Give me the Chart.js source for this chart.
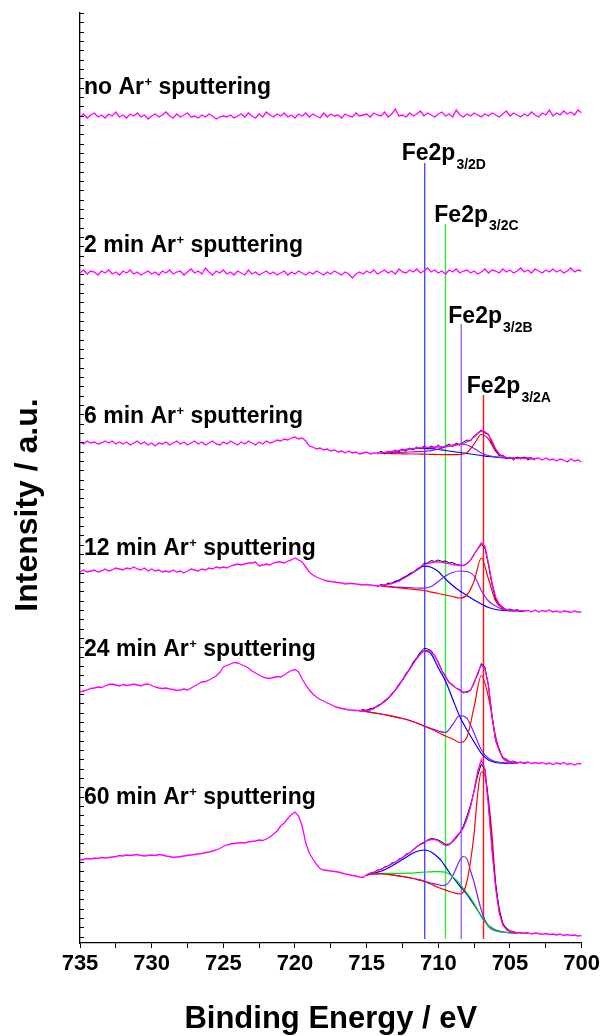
<!DOCTYPE html>
<html>
<head>
<meta charset="utf-8">
<script src="https://cdn.jsdelivr.net/npm/chart.js@4.4.0/dist/chart.umd.min.js"></script>
<style>
  html, body { margin: 0; padding: 0; background: #fff; }
  canvas { display: block; }
</style>
</head>
<body>
<canvas id="xpsChart" width="603" height="1036"></canvas>
<script>
// energy grid of the measured spectra: 735 eV down to 700 eV
let gridStart = 735;
let gridStep = 0.25;
let fitStep = 0.5;

let xTickLabels = [735, 730, 725, 720, 715, 710, 705, 700];
let sampleNames = ['no', '2 min', '6 min', '12 min', '24 min', '60 min'];

let peakNames = ['A', 'B', 'C', 'D'];
let peakPositions = [706.85, 708.4, 709.5, 710.95];
let peakLineTops = [548, 619, 719, 780];

// spectra (intensity, arbitrary units, stacked)
let specNoAr = [
  826, 829, 825, 828, 830, 826, 828, 825, 829, 827, 831, 826, 828, 825, 829, 827, 830, 826, 828, 824,
  827, 829, 826, 828, 831, 827, 825, 829, 826, 828, 830, 826, 827, 825, 828, 826, 829, 827, 824, 826,
  827, 826, 828, 825, 827, 829, 826, 830, 827, 825, 829, 826, 831, 828, 826, 829, 827, 830, 826, 828,
  825, 829, 827, 830, 826, 829, 827, 825, 830, 826, 829, 827, 828, 825, 829, 827, 826, 830, 827, 828,
  829, 826, 830, 828, 827, 831, 826, 829, 834, 827, 828, 826, 830, 827, 829, 832, 827, 830, 828, 826,
  829, 831, 827, 829, 826, 833, 828, 826, 829, 827, 830, 828, 826, 829, 827, 830, 828, 826, 829, 832,
  827, 830, 828, 826, 829, 827, 831, 828, 826, 830, 828, 833, 827, 830, 828, 832, 829, 831, 828, 833,
  830
];
let spec2min = [
  670, 673, 669, 672, 671, 668, 672, 670, 673, 669, 671, 668, 672, 670, 673, 669, 671, 668, 670, 672,
  669, 671, 668, 672, 670, 673, 669, 671, 672, 668, 671, 674, 670, 672, 669, 675, 671, 668, 672, 670,
  673, 669, 671, 668, 672, 670, 668, 673, 669, 671, 668, 670, 672, 669, 671, 668, 670, 672, 668, 671,
  669, 672, 670, 668, 671, 669, 672, 670, 668, 671, 669, 672, 670, 668, 671, 669, 665, 669, 671, 669,
  672, 670, 673, 669, 671, 673, 670, 672, 669, 674, 671, 670, 673, 671, 674, 670, 672, 675, 671, 673,
  670, 672, 669, 673, 671, 674, 670, 672, 673, 670, 672, 669, 671, 674, 670, 673, 672, 670, 674, 671,
  673, 670, 672, 675, 671, 673, 670, 674, 672, 670, 673, 671, 674, 671, 673, 670, 672, 675, 671, 673,
  672
];
let spec6min = [
  501, 499, 502, 500, 501, 499, 500, 502, 500, 502, 499, 501, 499, 501, 498, 500, 502, 499, 501, 498,
  500, 497, 500, 499, 501, 498, 500, 502, 499, 501, 498, 500, 502, 499, 501, 498, 500, 502, 499, 498,
  501, 499, 502, 500, 498, 501, 499, 502, 500, 498, 501, 499, 502, 500, 501, 503, 502, 504, 503, 505,
  506, 504, 505, 502, 497, 496, 494, 495, 493, 494, 492, 493, 491, 492, 490, 492, 490, 491, 489, 490,
  491, 489, 490, 490, 490, 490.5, 491, 491.5, 492, 492.5, 493, 493.5, 494, 494.5, 495, 495, 495.5, 495.5, 495.5, 496,
  496, 496, 496.5, 497, 497.5, 498, 498.5, 499.5, 501, 503, 506, 509.5, 512, 511.5, 508, 502, 494, 489, 486.5, 485.5,
  485, 485, 484.5, 485, 484.5, 485, 484, 484.5, 485, 483, 485, 483, 484, 482, 484, 483, 481, 484, 482, 483,
  481
];
let spec12min = [
  371, 373, 371, 372, 373, 371, 372, 374, 372, 373, 375, 374, 373, 375, 374, 376, 374, 373, 375, 372,
  374, 372, 373, 371, 372, 371, 373, 371, 372, 370, 372, 374, 373, 372, 374, 373, 375, 374, 376, 375,
  376, 375, 377, 378, 379, 378, 379, 380, 380, 381, 377, 378, 379, 378, 380, 381, 381, 380, 382, 383,
  385, 383, 381, 376, 371, 368, 366, 364.5, 363, 362, 361.5, 361, 360.5, 360, 359, 359.5, 359.5, 359, 358.5, 358,
  358.5, 358, 357.5, 357, 357.5, 358, 358.5, 359.5, 360.5, 362, 364, 366, 368, 370.5, 373.5, 376, 378, 379.5, 380.5, 381,
  381, 380.8, 380, 379.3, 378.5, 378, 377.5, 377.5, 379.5, 383, 388.5, 394.5, 400, 397, 380, 360, 346, 339, 335.5, 333.5,
  333, 332.7, 332.5, 332.3, 332, 332.5, 331, 333, 331, 332.5, 331.5, 333, 331, 332, 330.5, 332, 331.5, 330.5, 332, 331,
  331
];
let spec24min = [
  251, 252, 253, 254.5, 255, 256, 255.5, 257, 258.5, 259, 258, 257, 258.5, 257.5, 258, 259, 258, 257, 258.5, 259,
  257.5, 256, 255, 254.5, 255, 254, 253.5, 252.5, 253, 254, 253, 255, 257, 259, 261, 261.5, 263, 265, 267, 270.5,
  276, 277.5, 279, 280.5, 280, 278.5, 277, 275, 272, 270, 268, 266, 265, 264.5, 265.5, 266.5, 266, 268, 270.5, 272.5,
  273.5, 271, 264, 258, 253, 249, 246, 243.5, 242, 240, 238.5, 236.5, 235.5, 234.5, 234, 233, 233, 232.5, 232.5, 232,
  232.5, 233, 235, 236.5, 239, 241.5, 244.7, 248.5, 253, 258, 263, 268.5, 274, 279.5, 285, 289, 292, 292.5, 291, 287.5,
  280, 272, 266, 261, 257.5, 255, 252.5, 251, 250.5, 253, 260, 270, 278, 274, 258, 226, 203, 192, 186, 182.5,
  181.5, 181, 180.5, 180.5, 180, 181, 179.5, 180.5, 179.5, 180.5, 179, 180, 178.5, 180, 179, 180.5, 178.5, 179.5, 178, 179.5,
  179
];
let spec60min = [
  83, 83.5, 84.5, 84, 85, 84.5, 85.5, 85, 85.5, 86, 86.5, 87.5, 87, 88, 87.5, 88, 88.5, 87.5, 87, 87.5,
  88, 87.5, 88.5, 88, 87, 86.5, 85.5, 86, 86.5, 87, 87.5, 88, 88.5, 89, 89.5, 90.5, 91, 92, 93, 94.5,
  96.5, 98, 99, 99.5, 100, 100.5, 100, 101, 101.5, 102, 103, 102.5, 104, 106, 109, 112, 117, 120, 124.5, 128.5,
  131, 127, 117, 100, 90, 84, 78.5, 74.5, 73, 72.5, 72, 71.5, 71, 70, 69, 68.5, 67.5, 67, 66, 65.5,
  68.5, 69.5, 71, 72.5, 74, 75.5, 77, 79, 81, 83, 85.5, 88, 90, 93, 96.5, 99, 101, 102.5, 103.5, 103.5,
  102, 99.5, 97.5, 98, 102, 106.5, 110.5, 115, 124, 136, 153, 172, 183, 174, 136, 92, 55, 30, 18, 13.5,
  11.5, 10.8, 10.3, 10, 9.8, 10.5, 9, 10, 9.5, 8.5, 9.5, 8.5, 9, 8, 9, 7.5, 8.5, 7.5, 8, 7,
  7.5
];

// raw data inside the fit windows (step 0.25 eV)
let raw6Start = 714.25;
let raw6min = [489, 492, 489, 492, 490, 493, 491, 494, 492, 495, 493, 496, 494, 497, 494, 497, 495, 498, 495, 497,
  499, 496, 500, 498, 501, 503, 502, 507, 510, 513, 510, 509, 500, 493, 487, 488, 484, 486, 483, 486, 484, 486, 483, 485, 483];
let raw12Start = 714.25;
let raw12min = [356, 358.5, 357.5, 360, 359.5, 362, 361.5, 365, 366, 369.5, 370.5, 374, 376, 379.5, 380, 382.5, 381.5, 383,
  381.5, 382, 380, 380.5, 378.5, 378, 377.5, 379, 383, 389, 394, 398.5, 395, 378, 358, 344, 338, 336, 333, 334, 332, 333.5, 331.5];
let raw24Start = 715.5;
let raw24min = [232, 233.5, 232, 234.5, 234, 237.5, 238.5, 242.5, 244, 249.5, 252.5, 259, 262.5, 269.5, 273.5, 281, 285.5, 291,
  294.5, 294, 292.5, 287, 281, 272.5, 267, 260, 258.5, 254.5, 253.5, 250, 251.5, 252.5, 261, 268.5, 279.5, 276, 257, 227, 202,
  193.5, 185, 184, 181, 182, 180, 181, 179.5, 180.5];
let raw60Start = 715;
let raw60min = [68, 70, 70.5, 73, 73.5, 76, 77, 80, 80.5, 84, 85, 89, 90, 93.5, 96, 98.5, 100, 103, 104.5, 104, 103, 101, 98.5,
  99, 101, 105, 110, 117, 127, 138, 152, 168, 179, 174, 140, 95, 58, 33, 19, 15, 12, 11.5, 10, 10.5, 9.5, 10];

// fitted components on background
let fit6Start = 714;
let fit6A = [489.5, 489.5, 489.3, 489.2, 489, 489, 488.8, 488.7, 488.5, 488.4, 488.3, 488.5, 490.5, 499, 508.5, 504, 491.7, 486.5, 485.2, 485, 484.8, 484.8];
let fit6B = [490, 490, 490.3, 490.6, 491, 491.3, 491.6, 492.3, 494, 496, 497.8, 499, 498, 494.5, 490, 487.5, 486, 485.3, 485, 485, 484.8, 484.8];
let fit6D = [490, 491, 492, 493, 494, 494.5, 494.7, 494.3, 493.5, 492.5, 491.5, 490.5, 489.5, 488.5, 487.5, 486.5, 485.8, 485.3, 485, 485, 484.8, 484.8];

let fit12Start = 714;
let fit12A = [357, 356.3, 355.5, 354.8, 354, 353.3, 352.5, 350.8, 349.5, 348, 346.5, 345, 348, 362, 385, 364, 342, 334.5, 333, 332.5, 332];
let fit12B = [357, 356.5, 356, 355.7, 355.4, 355, 354.8, 356.5, 361.5, 367, 370.5, 372, 371.5, 367, 352.5, 342, 337, 333.7, 332.8, 332.3, 332];
let fit12D = [357.2, 358.8, 361.3, 364.8, 368.8, 372.8, 376.8, 375.8, 371.5, 364, 357.5, 352, 347.5, 343, 339, 335.5, 333.5, 332.5, 332.2, 332, 332];

let fit24Start = 715.5;
let fit24A = [232.3, 231.3, 230.2, 229, 227.7, 226.2, 224.5, 222.5, 220, 217, 214, 210.5, 207, 204, 200.5, 206, 236.3, 267.5, 246, 206.3, 185, 181, 180];
let fit24B = [232.3, 231.3, 230.2, 229, 227.7, 226.2, 224.5, 222.5, 220, 217, 214.5, 212, 210.5, 218.5, 227.5, 224.7, 209.7, 193, 184.7, 181.5, 180.3, 179.8, 179.5];
let fit24D = [232.3, 233, 235, 239, 244.7, 253, 263, 274, 284.5, 292, 289, 275, 262, 244, 226.3, 213, 201, 189.7, 183, 180.5, 179.8, 179.7, 179.5];

// 60 min fit is read on a finer 0.25 eV grid (narrow peaks)
let fit60Start = 715;
let fit60Step = 0.25;
let fit60A = [68.2, 68.6, 69, 69.2, 69.3, 69, 68.6, 68.1, 67.6, 67.1, 66.5, 65.9, 65.3, 64.5, 63.7, 62.8, 61.8, 60.3, 58.7, 57.1,
  55.5, 54.2, 53, 51.8, 50.5, 49.7, 49, 51, 62, 82, 109.7, 150, 171, 167, 143, 108, 59.7, 34, 20, 14, 11.3, 10.5, 10];
let fit60B = [68.2, 68.6, 69, 69.2, 69.3, 69, 68.6, 68.1, 67.6, 67.1, 66.5, 65.9, 65.3, 64.5, 63.7, 62.8, 61.8, 60.9, 60, 59.1,
  58.3, 57.5, 58, 61, 67, 75, 83, 86.5, 84, 72, 60.5, 46, 33, 23, 16.3, 13.5, 12, 11.3, 10.8, 10.5, 10.3, 10.1, 10];
let fit60C = [68.2, 68.6, 69, 69.4, 69.7, 69.7, 69.7, 69.7, 69.7, 69.7, 69.7, 69.8, 69.8, 70, 70.3, 70.6, 70.8, 71, 71.2, 71.3,
  71.3, 71.2, 70.8, 69, 66.3, 63, 59, 54.5, 50, 45, 39.5, 33, 26.3, 21, 17, 14.5, 12.5, 11.5, 10.8, 10.5, 10.3, 10.1, 10];
let fit60D = [68.2, 69, 69.8, 70.8, 71.8, 73.3, 75, 77, 79, 81.2, 83.5, 85.8, 88, 90, 91.5, 92.5, 93, 92.5, 91, 88.5,
  85.5, 81.5, 76.3, 71, 66, 61.5, 57, 52.8, 48.5, 43.3, 38, 32.5, 27, 22, 17.5, 15, 13, 11.8, 11, 10.6, 10.3, 10.1, 10];

// ---- layout and style ----
let colSpectrum = '#ff00ff';
let colRaw = '#000000';
let compColors = { A: '#ff0000', B: '#8020ff', C: '#00e000', D: '#0000ff' };
let peakLineColors = { A: '#ff1010', B: '#9a66ff', C: '#2cf02c', D: '#4a4aff' };

let labelLeft = 84;
let labelBaselines = [94, 252, 423, 555, 656, 804];
let peakLabelLeft = [466.7, 448.3, 434.3, 401.7];
let peakLabelBaselines = [393, 323, 221.5, 160];
let yTickStep = 9.33;
let fontFamily = '"Liberation Sans", Arial, sans-serif';

function toPoints(start, step, values) {
  return values.map(function (v, i) { return { x: start - i * step, y: v }; });
}

function lineSet(label, points, color, width, order, smooth) {
  return {
    label: label,
    data: points,
    borderColor: color,
    borderWidth: width,
    pointRadius: 0,
    fill: false,
    tension: 0,
    cubicInterpolationMode: smooth ? 'monotone' : 'default',
    order: order
  };
}

let datasets = [];

let spectra = [specNoAr, spec2min, spec6min, spec12min, spec24min, spec60min];
spectra.forEach(function (s, i) {
  datasets.push(lineSet(sampleNames[i], toPoints(gridStart, gridStep, s), colSpectrum, 1.3, 1, false));
});

let rawSets = [[raw6Start, raw6min], [raw12Start, raw12min], [raw24Start, raw24min], [raw60Start, raw60min]];
rawSets.forEach(function (r) {
  datasets.push(lineSet('raw', toPoints(r[0], gridStep, r[1]), colRaw, 1, 2, false));
});

let compSets = [
  [fit6Start, fitStep, { A: fit6A, B: fit6B, D: fit6D }],
  [fit12Start, fitStep, { A: fit12A, B: fit12B, D: fit12D }],
  [fit24Start, fitStep, { A: fit24A, B: fit24B, D: fit24D }],
  [fit60Start, fit60Step, { A: fit60A, C: fit60C, B: fit60B, D: fit60D }]
];
compSets.forEach(function (c) {
  Object.keys(c[2]).forEach(function (k) {
    datasets.push(lineSet('Fe2p ' + k, toPoints(c[0], c[1], c[2][k]), compColors[k], 1.2, 3, true));
  });
});

peakNames.forEach(function (k, i) {
  datasets.push(lineSet('line ' + k, [{ x: peakPositions[i], y: 4 }, { x: peakPositions[i], y: peakLineTops[i] }],
    peakLineColors[k], 1.4, 4, false));
});

let annotate = {
  id: 'annotate',
  afterDraw: function (chart) {
    let ctx = chart.ctx;
    let x = chart.scales.x;
    let y = chart.scales.y;
    ctx.save();

    // small inward ticks on the intensity axis
    ctx.strokeStyle = '#000';
    ctx.lineWidth = 1;
    ctx.beginPath();
    for (let v = y.max; v >= y.min; v -= yTickStep) {
      let py = Math.round(y.getPixelForValue(v)) + 0.5;
      ctx.moveTo(x.left, py);
      ctx.lineTo(x.left + 4, py);
    }
    ctx.stroke();

    ctx.fillStyle = '#000';
    ctx.textBaseline = 'alphabetic';
    ctx.textAlign = 'left';

    // sample labels
    sampleNames.forEach(function (name, i) {
      let px = labelLeft;
      let py = labelBaselines[i];
      ctx.font = 'bold 23px ' + fontFamily;
      ctx.fillText(name + ' Ar', px, py);
      px += ctx.measureText(name + ' Ar').width + 0.5;
      ctx.font = 'bold 13px ' + fontFamily;
      ctx.fillText('+', px, py - 8);
      px += ctx.measureText('+').width;
      ctx.font = 'bold 23px ' + fontFamily;
      ctx.fillText(' sputtering', px, py);
    });

    // peak labels
    peakNames.forEach(function (k, i) {
      let px = peakLabelLeft[i];
      let py = peakLabelBaselines[i];
      ctx.font = 'bold 23px ' + fontFamily;
      ctx.fillText('Fe2p', px, py);
      px += ctx.measureText('Fe2p').width + 1;
      ctx.font = 'bold 14px ' + fontFamily;
      ctx.fillText('3/2' + k, px, py + 8.5);
    });

    // axis titles
    ctx.font = 'bold 31px ' + fontFamily;
    ctx.textAlign = 'center';
    ctx.fillText('Binding Energy / eV', (x.left + x.right) / 2, 1028);
    ctx.font = 'bold 32px ' + fontFamily;
    ctx.translate(37, 505);
    ctx.rotate(-Math.PI / 2);
    ctx.fillText('Intensity / a.u.', 0, 0);

    ctx.restore();
  }
};

let chartCanvas = document.getElementById('xpsChart');
let xpsChart = new Chart(chartCanvas, {
  type: 'line',
  data: { datasets: datasets },
  options: {
    responsive: false,
    animation: false,
    devicePixelRatio: 1,
    events: [],
    layout: { padding: { top: 13, right: 20, left: 0, bottom: 0 } },
    plugins: { legend: { display: false }, tooltip: { enabled: false } },
    scales: {
      x: {
        type: 'linear',
        reverse: true,
        min: 700,
        max: 735,
        afterFit: function (scale) { scale.height = 93; },
        ticks: {
          stepSize: 2.5,
          autoSkip: false,
          maxRotation: 0,
          padding: 3,
          color: '#000',
          font: { family: fontFamily, size: 22, weight: 'bold' },
          callback: function (v) { return xTickLabels.indexOf(v) >= 0 ? String(v) : ''; }
        },
        grid: { drawOnChartArea: false, drawTicks: true, tickLength: 5, color: '#000', lineWidth: 1 },
        border: { display: true, color: '#000', width: 1.3 }
      },
      y: {
        min: 0,
        max: 930,
        afterFit: function (scale) { scale.width = 80; },
        ticks: { display: false },
        grid: { display: false },
        border: { display: true, color: '#000', width: 1.3 }
      }
    }
  },
  plugins: [annotate]
});
</script>
</body>
</html>
